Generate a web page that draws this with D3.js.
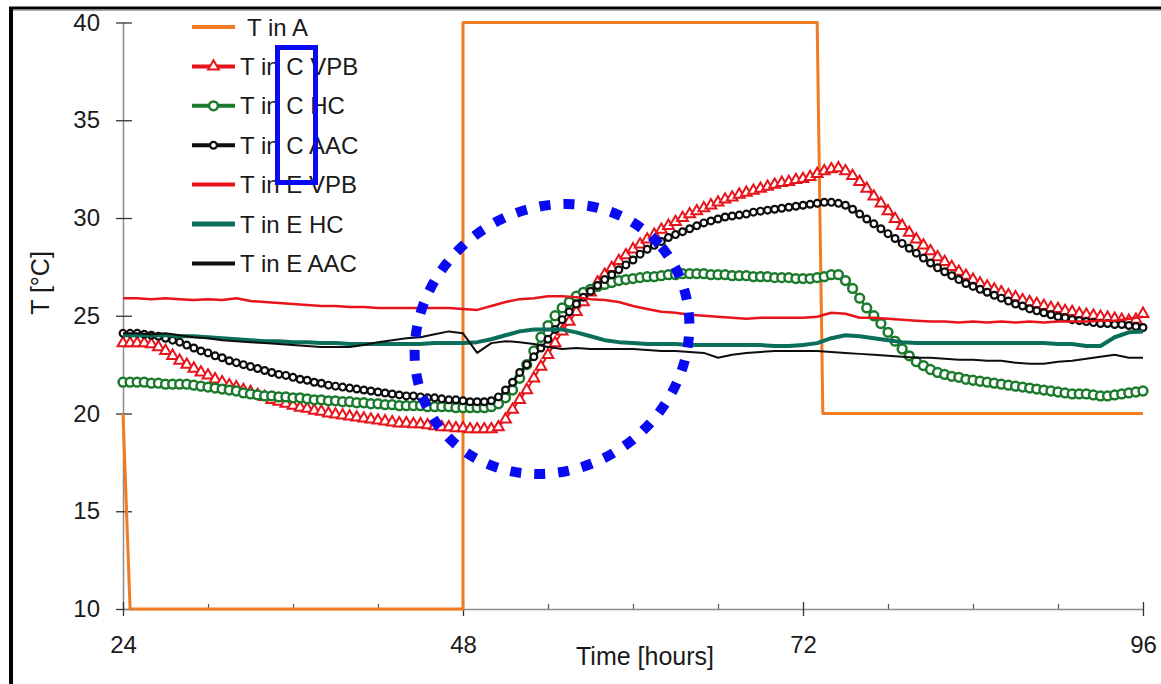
<!DOCTYPE html>
<html>
<head>
<meta charset="utf-8">
<script src="https://cdn.jsdelivr.net/npm/d3@7"></script>
<style>
  body { margin: 0; background: #fff; }
  svg text { font-family: "Liberation Sans", Arial, sans-serif; fill: #1a1a1a; }
</style>
</head>
<body>
<div id="graf"></div>
<script>
// ---- datos ----
// T in A: escalones (horas, grados)
const horasA = [24, 24.5, 48, 48, 73, 73.4, 96];
const tempA  = [20, 10, 10, 40, 40, 20, 20];

// series con marcadores: una lectura cada media hora desde las 24 h
const inicioC = 24, pasoC = 0.5;
const tempC_VPB = [
  23.6, 23.6, 23.6, 23.6, 23.55, 23.4, 23.2, 22.95,
  22.7, 22.5, 22.3, 22.1, 21.95, 21.75, 21.6, 21.45,
  21.35, 21.2, 21.1, 20.95, 20.85, 20.7, 20.6, 20.5,
  20.4, 20.3, 20.25, 20.15, 20.1, 20.0, 19.95, 19.9,
  19.85, 19.8, 19.75, 19.7, 19.65, 19.6, 19.55, 19.5,
  19.5, 19.45, 19.45, 19.4, 19.35, 19.3, 19.3, 19.25,
  19.25, 19.2, 19.2, 19.2, 19.2, 19.3, 19.7, 20.2,
  20.7, 21.2, 21.8, 22.4, 23.0, 23.6, 24.2, 24.7,
  25.2, 25.7, 26.2, 26.7, 27.1, 27.45, 27.8, 28.1,
  28.4, 28.65, 28.9, 29.15, 29.4, 29.6, 29.8, 30.0,
  30.2, 30.35, 30.5, 30.65, 30.8, 30.95, 31.05, 31.2,
  31.3, 31.4, 31.5, 31.6, 31.7, 31.8, 31.85, 31.95,
  32.0, 32.1, 32.25, 32.4, 32.5, 32.55, 32.4, 32.15,
  31.85, 31.5, 31.1, 30.75, 30.35, 29.95, 29.6, 29.25,
  28.9, 28.6, 28.3, 28.0, 27.75, 27.5, 27.25, 27.05,
  26.85, 26.65, 26.5, 26.35, 26.2, 26.05, 25.95, 25.8,
  25.7, 25.6, 25.5, 25.4, 25.35, 25.25, 25.2, 25.1,
  25.05, 25.0, 24.95, 24.9, 24.85, 24.8, 24.75, 24.8,
  25.1
];
const tempC_HC = [
  21.6, 21.6, 21.6, 21.6, 21.55, 21.55, 21.5, 21.5,
  21.5, 21.5, 21.45, 21.4, 21.35, 21.3, 21.25, 21.2,
  21.15, 21.05, 21.0, 20.95, 20.9, 20.9, 20.85, 20.85,
  20.8, 20.8, 20.75, 20.7, 20.7, 20.65, 20.65, 20.6,
  20.6, 20.55, 20.55, 20.5, 20.5, 20.45, 20.45, 20.4,
  20.4, 20.4, 20.4, 20.35, 20.35, 20.35, 20.35, 20.3,
  20.3, 20.3, 20.3, 20.3, 20.35, 20.5, 20.8, 21.2,
  21.8, 22.5, 23.2, 23.9, 24.5, 25.0, 25.4, 25.7,
  26.0, 26.2, 26.35, 26.5, 26.6, 26.7, 26.8, 26.85,
  26.9, 26.95, 27.0, 27.0, 27.05, 27.1, 27.1, 27.15,
  27.15, 27.15, 27.15, 27.1, 27.1, 27.1, 27.05, 27.05,
  27.05, 27.0, 27.0, 27.0, 26.95, 26.95, 26.95, 26.9,
  26.9, 26.9, 26.95, 27.0, 27.1, 27.1, 26.8, 26.4,
  25.9, 25.4, 25.0, 24.6, 24.15, 23.7, 23.3, 22.95,
  22.65, 22.45, 22.25, 22.1, 22.0, 21.9, 21.85, 21.75,
  21.7, 21.65, 21.6, 21.55, 21.5, 21.45, 21.4, 21.35,
  21.3, 21.25, 21.2, 21.15, 21.1, 21.05, 21.0, 21.0,
  21.0, 20.95, 20.9, 20.9, 20.95, 21.0, 21.05, 21.1,
  21.15
];
const tempC_AAC = [
  24.1, 24.1, 24.1, 24.05, 24.0, 23.95, 23.85, 23.75,
  23.65, 23.5, 23.35, 23.2, 23.1, 22.95, 22.85, 22.7,
  22.6, 22.5, 22.4, 22.3, 22.2, 22.1, 22.0, 21.95,
  21.85, 21.75, 21.7, 21.6, 21.55, 21.45, 21.4, 21.35,
  21.3, 21.25, 21.2, 21.15, 21.1, 21.05, 21.0, 20.95,
  20.9, 20.9, 20.85, 20.8, 20.8, 20.75, 20.7, 20.7,
  20.65, 20.6, 20.6, 20.6, 20.65, 20.85, 21.2, 21.6,
  22.1, 22.5, 22.9, 23.35, 23.8, 24.3, 24.8, 25.2,
  25.6, 25.95, 26.25, 26.55, 26.85, 27.1, 27.35, 27.6,
  27.85, 28.15, 28.4, 28.6, 28.8, 29.0, 29.15, 29.3,
  29.45, 29.6, 29.75, 29.85, 29.95, 30.05, 30.1, 30.15,
  30.2, 30.3, 30.35, 30.4, 30.45, 30.5, 30.55, 30.6,
  30.65, 30.7, 30.75, 30.8, 30.8, 30.75, 30.65, 30.45,
  30.2, 29.95, 29.7, 29.45, 29.2, 28.95, 28.7, 28.45,
  28.2, 27.95, 27.7, 27.45, 27.25, 27.05, 26.85, 26.65,
  26.5, 26.35, 26.2, 26.05, 25.9, 25.75, 25.6, 25.5,
  25.35, 25.25, 25.15, 25.05, 24.95, 24.9, 24.8, 24.75,
  24.7, 24.65, 24.6, 24.6, 24.55, 24.55, 24.5, 24.45,
  24.4
];

// series sin marcadores: una lectura por hora desde las 24 h
const inicioE = 24, pasoE = 1;
const tempE_VPB = [
  25.9, 25.9, 25.85, 25.9, 25.85, 25.8, 25.85, 25.8,
  25.9, 25.75, 25.7, 25.65, 25.6, 25.55, 25.5, 25.5,
  25.45, 25.45, 25.4, 25.4, 25.4, 25.4, 25.4, 25.4,
  25.35, 25.3, 25.5, 25.7, 25.85, 25.9, 26.0, 26.0,
  25.95, 25.85, 25.8, 25.7, 25.5, 25.35, 25.2, 25.15,
  25.05, 25.0, 24.95, 24.9, 24.85, 24.9, 24.9, 24.9,
  24.9, 24.95, 25.15, 25.1, 24.9, 24.9, 24.85, 24.8,
  24.75, 24.7, 24.7, 24.65, 24.7, 24.65, 24.7, 24.65,
  24.7, 24.65, 24.7, 24.7, 24.7, 24.75, 24.75, 24.85,
  24.95
];
const tempE_HC = [
  24.0, 24.0, 24.0, 24.0, 23.95, 23.95, 23.9, 23.85,
  23.8, 23.75, 23.7, 23.7, 23.65, 23.65, 23.6, 23.6,
  23.55, 23.55, 23.55, 23.55, 23.55, 23.55, 23.6, 23.6,
  23.6, 23.65, 23.8, 24.0, 24.2, 24.3, 24.3, 24.3,
  24.15, 23.95, 23.75, 23.65, 23.6, 23.55, 23.55, 23.55,
  23.5, 23.5, 23.5, 23.5, 23.5, 23.5, 23.45, 23.45,
  23.5, 23.6, 23.85, 24.0, 23.95, 23.85, 23.75, 23.65,
  23.6, 23.6, 23.6, 23.6, 23.6, 23.6, 23.6, 23.6,
  23.6, 23.6, 23.55, 23.55, 23.45, 23.45, 23.9, 24.15,
  24.2
];
const tempE_AAC = [
  24.1, 24.1, 24.05, 24.1, 24.0, 23.9, 23.85, 23.75,
  23.7, 23.65, 23.6, 23.55, 23.5, 23.45, 23.4, 23.4,
  23.4, 23.5, 23.65, 23.75, 23.85, 23.9, 24.05, 24.2,
  24.1, 23.1, 23.6, 23.7, 23.65, 23.55, 23.4, 23.3,
  23.35, 23.3, 23.3, 23.3, 23.3, 23.25, 23.2, 23.2,
  23.15, 23.1, 22.85, 23.0, 23.1, 23.15, 23.2, 23.2,
  23.2, 23.2, 23.15, 23.1, 23.05, 23.0, 22.95, 22.9,
  22.85, 22.85, 22.8, 22.75, 22.75, 22.7, 22.7, 22.6,
  22.55, 22.55, 22.65, 22.7, 22.8, 22.9, 23.0, 22.85,
  22.85
];

const ticksY = [10, 15, 20, 25, 30, 35, 40];
const ticksX = [24, 48, 72, 96];
const ticksXmenor = [30, 36, 42, 54, 60, 66, 78, 84, 90];
const nombres = ["T in A", "T in C VPB", "T in C HC", "T in C AAC", "T in E VPB", "T in E HC", "T in E AAC"];

// ---- dibujo ----
const anchoTotal = 1161;
const altoTotal = 684;

const svg = d3.select("#graf")
  .append("svg")
  .attr("width", anchoTotal)
  .attr("height", altoTotal);

svg.append("rect").attr("width", anchoTotal).attr("height", altoTotal).attr("fill", "white");

// marco negro (arriba e izquierda)
svg.append("line").attr("x1", 9).attr("x2", anchoTotal).attr("y1", 8).attr("y2", 8)
  .attr("stroke", "#000").attr("stroke-width", 3);
svg.append("line").attr("x1", 9).attr("x2", anchoTotal).attr("y1", 10.5).attr("y2", 10.5)
  .attr("stroke", "#aaa").attr("stroke-width", 1);
svg.append("line").attr("x1", 11).attr("x2", 11).attr("y1", 7).attr("y2", altoTotal)
  .attr("stroke", "#000").attr("stroke-width", 4);

// Escaladores
const x = d3.scaleLinear().domain([24, 96]).range([123, 1143]);
const y = d3.scaleLinear().domain([10, 40]).range([609, 22.5]);

// Ejes
const yAxisGroup = svg.append("g")
  .attr("transform", `translate(${x(24)}, 0)`)
  .call(d3.axisLeft(y).tickValues(ticksY).tickSizeOuter(0));
yAxisGroup.select(".domain").attr("stroke", "#8c8c8c").attr("stroke-width", 1.5);
yAxisGroup.selectAll(".tick line").attr("x1", 9).attr("x2", -7).attr("stroke", "#333").attr("stroke-width", 1.3);
yAxisGroup.selectAll(".tick text").attr("x", -23).attr("style", "font-size:24px");

const xMinorGroup = svg.append("g")
  .attr("transform", `translate(0, ${y(10)})`)
  .call(d3.axisBottom(x).tickValues(ticksXmenor).tickFormat("").tickSizeOuter(0));
xMinorGroup.select(".domain").remove();
xMinorGroup.selectAll(".tick line").attr("y1", -5).attr("y2", 1).attr("stroke", "#555").attr("stroke-width", 1.2);

const xAxisGroup = svg.append("g")
  .attr("transform", `translate(0, ${y(10)})`)
  .call(d3.axisBottom(x).tickValues(ticksX).tickSizeOuter(0));
xAxisGroup.select(".domain").attr("stroke", "#8c8c8c").attr("stroke-width", 1.5);
xAxisGroup.selectAll(".tick line").attr("y1", -7).attr("y2", 7).attr("stroke", "#333").attr("stroke-width", 1.3);
xAxisGroup.selectAll(".tick text").attr("y", 44).attr("dy", 0).attr("style", "font-size:24px");

// Titulos de ejes
svg.append("text")
  .attr("transform", "translate(49, 283) rotate(-90)")
  .attr("text-anchor", "middle")
  .attr("style", "font-size:25px")
  .text("T [°C]");
svg.append("text")
  .attr("x", 645).attr("y", 665)
  .attr("text-anchor", "middle")
  .attr("style", "font-size:25px")
  .text("Time [hours]");

// armar los puntos de cada serie
const serie = (inicio, paso, valores) => valores.map((v, i) => ({ h: inicio + i * paso, t: v }));
const datosA = horasA.map((h, i) => ({ h: h, t: tempA[i] }));

const linea = d3.line().x((d) => x(d.h)).y((d) => y(d.t));
const capa = svg.append("g");

const series = [
  { datos: datosA, color: "#f07b22", ancho: 3, marca: null },
  { datos: serie(inicioC, pasoC, tempC_VPB), color: "#e8141b", ancho: 2, marca: "tri" },
  { datos: serie(inicioC, pasoC, tempC_HC), color: "#1b7a2c", ancho: 2, marca: "circ" },
  { datos: serie(inicioC, pasoC, tempC_AAC), color: "#0d0d0d", ancho: 2, marca: "circP" },
  { datos: serie(inicioE, pasoE, tempE_VPB), color: "#e8141b", ancho: 2.5, marca: null },
  { datos: serie(inicioE, pasoE, tempE_HC), color: "#0a6e5a", ancho: 4, marca: null },
  { datos: serie(inicioE, pasoE, tempE_AAC), color: "#0d0d0d", ancho: 2, marca: null },
];

const triangulo = d3.symbol().type(d3.symbolTriangle).size(50);

function dibujarMarcas(g, datos, tipo, color, px, py) {
  if (tipo === "tri") {
    g.selectAll("path.m").data(datos).enter().append("path")
      .attr("class", "m")
      .attr("d", triangulo)
      .attr("transform", (d) => `translate(${px(d)}, ${py(d)})`)
      .attr("fill", "white").attr("stroke", color).attr("stroke-width", 2);
  } else {
    g.selectAll("circle.m").data(datos).enter().append("circle")
      .attr("class", "m")
      .attr("cx", px).attr("cy", py)
      .attr("r", tipo === "circ" ? 4.4 : 3.4)
      .attr("fill", "white").attr("stroke", color).attr("stroke-width", tipo === "circ" ? 2.5 : 2.2);
  }
}

series.forEach((s) => {
  const g = capa.append("g");
  g.append("path")
    .attr("d", linea(s.datos))
    .attr("fill", "none")
    .attr("stroke", s.color)
    .attr("stroke-width", s.ancho)
    .attr("stroke-linejoin", "round");
  if (s.marca) dibujarMarcas(g, s.datos, s.marca, s.color, (d) => x(d.h), (d) => y(d.t));
});

// Leyenda
const leyenda = svg.append("g");
series.forEach((s, i) => {
  const yc = 27 + i * 39.4;
  const item = leyenda.append("g");
  item.append("line")
    .attr("x1", 192).attr("x2", 235).attr("y1", yc).attr("y2", yc)
    .attr("stroke", s.color).attr("stroke-width", i === 5 ? 5 : 4);
  if (s.marca) dibujarMarcas(item, [{}], s.marca, s.color, () => 213.5, () => yc);
  item.append("text")
    .attr("x", i === 0 ? 247 : 240).attr("y", yc + 8.5)
    .attr("style", "font-size:24px")
    .text(nombres[i]);
});

// anotaciones azules
svg.append("rect")
  .attr("x", 277.5).attr("y", 47.5).attr("width", 38).attr("height", 135)
  .attr("fill", "none").attr("stroke", "#0a0af2").attr("stroke-width", 5);
svg.append("ellipse")
  .attr("transform", "translate(552, 339) rotate(-40)")
  .attr("rx", 143).attr("ry", 129)
  .attr("fill", "none").attr("stroke", "#0a0af2").attr("stroke-width", 10)
  .attr("stroke-dasharray", "11 13");
</script>
</body>
</html>
